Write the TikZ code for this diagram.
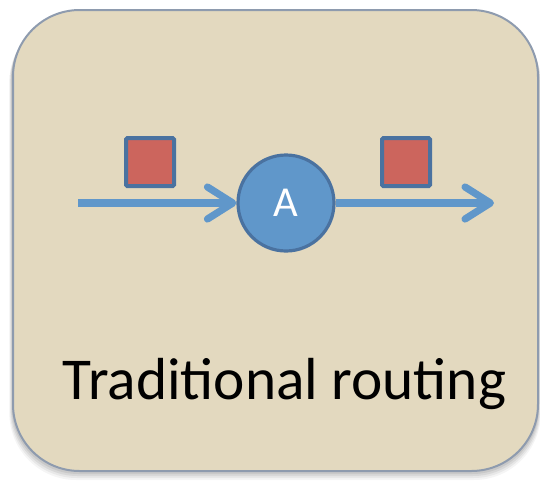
\documentclass[tikz,border=0pt]{standalone}
\usepackage{fontspec}
\setmainfont{Carlito}
\usetikzlibrary{arrows.meta}
\definecolor{panel}{HTML}{E3D9BF}
\definecolor{panelline}{HTML}{8E9BAE}
\definecolor{flowblue}{HTML}{6097CA}
\definecolor{nodeline}{HTML}{4A72A0}
\definecolor{packetred}{HTML}{CC655D}
\definecolor{shade}{HTML}{7F8CA0}
\tikzset{
  px/.style={x=0.75pt,y=-0.75pt},
  router/.style={circle,fill=flowblue,draw=nodeline,line width=2.4pt,
    minimum size=72pt,inner sep=0pt,text=white,font=\fontsize{32}{36}\selectfont},
  packet/.style={rectangle,fill=packetred,draw=nodeline,line width=3pt,
    minimum size=36pt,inner sep=0pt,rounded corners=1pt},
  flow/.style={draw=flowblue,line width=5.4pt,
    -{Straight Barb[length=19pt,width=24pt,round]}},
  caption/.style={font=\fontsize{44.5}{50}\selectfont,text=black,anchor=base,inner sep=0pt}
}
\begin{document}
\begin{tikzpicture}[px]
  \useasboundingbox (0,0) rectangle (540,480);
  % soft drop shadow of the panel
  \foreach \d/\o in {9/0.04,7/0.06,5/0.08,3/0.10}{
    \fill[shade,opacity=\o,rounded corners=50pt]
      (13-\d*0.4,10+\d*0.6) rectangle (538+\d*0.3,471+\d);
  }
  % panel
  \draw[fill=panel,draw=panelline,line width=1.5pt,rounded corners=50pt]
    (13,10) rectangle (538,471);
  % router and packets
  \node[router] (A) at (286,203) {A};
  \node[packet] (p1) at (150,162) {};
  \node[packet] (p2) at (406,162) {};
  \coordinate (src) at (78,203);
  \coordinate (dst) at (494,203);
  \draw[flow] (src) -- (A.west);
  \draw[flow] (A.east) -- (dst);
  % caption
  \node[caption] (cap) at (284.5,399) {Traditional routing};
\end{tikzpicture}
\end{document}
